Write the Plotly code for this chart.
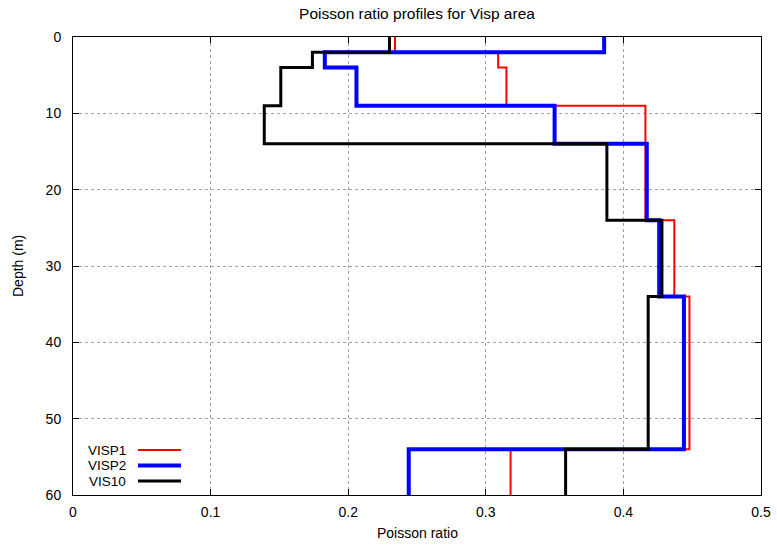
import plotly.graph_objects as go

# Layer boundaries (depth in metres): top of each layer, plus the profile bottom
layer_tops = [0, 2, 4, 9, 14, 24, 34, 54]
profile_bottom = 60

# Poisson ratio per layer for each site
visp1 = [0.234, 0.309, 0.315, 0.416, 0.416, 0.437, 0.448, 0.318]
visp2 = [0.386, 0.183, 0.206, 0.350, 0.417, 0.426, 0.444, 0.244]
vis10 = [0.230, 0.174, 0.151, 0.139, 0.388, 0.428, 0.418, 0.358]

series_names = ["VISP1", "VISP2", "VIS10"]
series_values = [visp1, visp2, vis10]
series_colors = ["#ff0000", "#0000ff", "#000000"]
series_widths = [2, 4, 3]

x_ticks = [0, 0.1, 0.2, 0.3, 0.4, 0.5]
y_ticks = [0, 10, 20, 30, 40, 50, 60]

FONT = "Liberation Sans, Arial, Helvetica, sans-serif"

# plot-area geometry in pixels
L, R, T, B = 73, 761, 37, 495
PW, PH = R - L, B - T

fig = go.Figure()

depths = layer_tops + [profile_bottom]
for name, vals, col, w in zip(series_names, series_values, series_colors, series_widths):
    xs = vals + [vals[-1]]
    fig.add_trace(go.Scatter(
        x=xs, y=depths, mode="lines", name=name,
        line=dict(color=col, width=w, shape="vh"),
        showlegend=False,
    ))

axis_common = dict(
    showline=True, linecolor="#000000", linewidth=1, mirror="ticks",
    ticks="inside", ticklen=6, tickcolor="#000000", tickwidth=1,
    showgrid=True, gridcolor="#a0a0a0", griddash="dot", gridwidth=1,
    zeroline=False, automargin=False,
    tickfont=dict(family=FONT, size=14, color="#000000"),
)

fig.update_xaxes(range=[0, 0.5], tickvals=x_ticks,
                 ticktext=[f"{v:g}" for v in x_ticks],
                 ticklabelstandoff=4, **axis_common)
fig.update_yaxes(range=[60, 0], tickvals=y_ticks,
                 ticktext=[str(v) for v in y_ticks],
                 ticklabelstandoff=8, **axis_common)

annotations = [
    dict(text="Poisson ratio", x=0.5, y=-(533 - B) / PH, xref="paper", yref="paper",
         showarrow=False, font=dict(family=FONT, size=14, color="#000"),
         xanchor="center", yanchor="middle"),
    dict(text="Depth (m)", x=-(L - 18) / PW, y=0.5, xref="paper", yref="paper",
         showarrow=False, textangle=-90,
         font=dict(family=FONT, size=14, color="#000"),
         xanchor="center", yanchor="middle"),
]

# Key in the lower-left corner: right-aligned label followed by a line sample
shapes = []
key_rows = [450, 465.5, 481]  # pixel rows
for name, col, w, row in zip(series_names, series_colors, series_widths, key_rows):
    yp = (B - row) / PH
    annotations.append(dict(
        text=name, x=(127 - L) / PW, y=yp, xref="paper", yref="paper",
        showarrow=False, xanchor="right", yanchor="middle", borderpad=0,
        font=dict(family=FONT, size=13.5, color="#000")))
    shapes.append(dict(
        type="line", xref="paper", yref="paper",
        x0=(138 - L) / PW, x1=(181 - L) / PW, y0=yp, y1=yp,
        line=dict(color=col, width=w)))

fig.update_layout(
    width=777, height=548, autosize=False,
    margin=dict(l=L, r=777 - R, t=T, b=548 - B, autoexpand=False),
    paper_bgcolor="#ffffff", plot_bgcolor="#ffffff",
    title=dict(text="Poisson ratio profiles for Visp area",
               x=0.5, xref="paper", y=1 - 14 / 548, yref="container",
               yanchor="middle", xanchor="center",
               font=dict(family=FONT, size=15.5, color="#000")),
    annotations=annotations,
    shapes=shapes,
    showlegend=False,
)

fig.write_html("out.html")
